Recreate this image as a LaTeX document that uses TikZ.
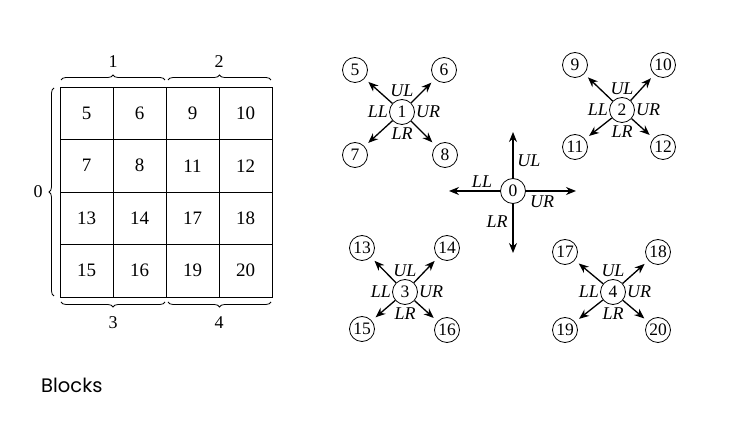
\documentclass[tikz,border=0pt]{standalone}
\usepackage{fontspec}
\setmainfont{Liberation Serif}
\newfontfamily\capfont{Poppins}
\usetikzlibrary{arrows.meta, positioning, decorations.pathreplacing}

\begin{document}
\begin{tikzpicture}[x=1pt, y=-1pt,
  cell/.style={draw, line width=0.9pt, minimum width=53pt, minimum height=52.5pt, inner sep=0pt, font=\fontsize{19}{21}\selectfont},
  blk/.style={draw, circle, line width=0.8pt, minimum size=25pt, inner sep=0pt, font=\fontsize{17.5}{19}\selectfont},
  lbl/.style={inner sep=1pt, font=\fontsize{18}{20}\selectfont\itshape},
  num/.style={inner sep=1pt, font=\fontsize{18}{20}\selectfont},
  go/.style={-{Stealth[length=10pt, width=8pt]}, line width=1.3pt, shorten >=5pt},
  brc/.style={decorate, decoration={brace, amplitude=5pt}, line width=0.8pt}]

  \useasboundingbox (0,0) rectangle (742,435);

  % the grid of blocks
  \node[cell] (c5) at (86.5,113.25) {5};
  \node[cell] (c6) at (139.5,113.25) {6};
  \node[cell] (c9) at (192.5,113.25) {9};
  \node[cell] (c10) at (245.5,113.25) {10};
  \node[cell] (c7) at (86.5,165.75) {7};
  \node[cell] (c8) at (139.5,165.75) {8};
  \node[cell] (c11) at (192.5,165.75) {11};
  \node[cell] (c12) at (245.5,165.75) {12};
  \node[cell] (c13) at (86.5,218.25) {13};
  \node[cell] (c14) at (139.5,218.25) {14};
  \node[cell] (c17) at (192.5,218.25) {17};
  \node[cell] (c18) at (245.5,218.25) {18};
  \node[cell] (c15) at (86.5,270.75) {15};
  \node[cell] (c16) at (139.5,270.75) {16};
  \node[cell] (c19) at (192.5,270.75) {19};
  \node[cell] (c20) at (245.5,270.75) {20};

  % braces
  \draw[brc] (61,80) -- (165,80);
  \draw[brc] (168,80) -- (271,80);
  \draw[brc] (165,302) -- (61,302);
  \draw[brc] (271,302) -- (168,302);
  \draw[brc] (54,296) -- (54,88);
  \node[num] (q1) at (113,62) {1};
  \node[num] (q2) at (219,62) {2};
  \node[num] (q3) at (113,323) {3};
  \node[num] (q4) at (219,323) {4};
  \node[num] (q0) at (38,192) {0};

  % block 0
  \node[blk] (n0) at (513,191) {0};
  \coordinate (u0) at (513,132);
  \coordinate (d0) at (513,253);
  \coordinate (l0) at (449,191);
  \coordinate (r0) at (576,191);
  \draw[go, shorten >=0pt] (n0) -- (u0);
  \draw[go, shorten >=0pt] (n0) -- (d0);
  \draw[go, shorten >=0pt] (n0) -- (l0);
  \draw[go, shorten >=0pt] (n0) -- (r0);
  \node[lbl] (ul0) at (529,161) {UL};
  \node[lbl] (ll0) at (482,182) {LL};
  \node[lbl] (ur0) at (542,202) {UR};
  \node[lbl] (lr0) at (497,222) {LR};

  % block 1
  \node[blk] (n1) at (402,112) {1};
  \node[blk] (s5) at (355,70) {5};
  \node[blk] (s6) at (444,70) {6};
  \node[blk] (s7) at (355,155) {7};
  \node[blk] (s8) at (445,155) {8};
  \draw[go] (n1) -- (s5);
  \draw[go] (n1) -- (s6);
  \draw[go] (n1) -- (s7);
  \draw[go] (n1) -- (s8);
  \node[lbl, above=1pt of n1] (ul1) {UL};
  \node[lbl, below=2pt of n1] (lr1) {LR};
  \node[lbl, left=0pt of n1] (ll1) {LL};
  \node[lbl, right=0pt of n1] (ur1) {UR};

  % block 2
  \node[blk] (n2) at (622,110) {2};
  \node[blk] (s9) at (575,65) {9};
  \node[blk] (s10) at (663,65) {10};
  \node[blk] (s11) at (575,147) {11};
  \node[blk] (s12) at (663,147) {12};
  \draw[go] (n2) -- (s9);
  \draw[go] (n2) -- (s10);
  \draw[go] (n2) -- (s11);
  \draw[go] (n2) -- (s12);
  \node[lbl, above=1pt of n2] (ul2) {UL};
  \node[lbl, below=2pt of n2] (lr2) {LR};
  \node[lbl, left=0pt of n2] (ll2) {LL};
  \node[lbl, right=0pt of n2] (ur2) {UR};

  % block 3
  \node[blk] (n3) at (405,292) {3};
  \node[blk] (s13) at (362,248) {13};
  \node[blk] (s14) at (447,248) {14};
  \node[blk] (s15) at (362,329) {15};
  \node[blk] (s16) at (447,330) {16};
  \draw[go] (n3) -- (s13);
  \draw[go] (n3) -- (s14);
  \draw[go] (n3) -- (s15);
  \draw[go] (n3) -- (s16);
  \node[lbl, above=1pt of n3] (ul3) {UL};
  \node[lbl, below=2pt of n3] (lr3) {LR};
  \node[lbl, left=0pt of n3] (ll3) {LL};
  \node[lbl, right=0pt of n3] (ur3) {UR};

  % block 4
  \node[blk] (n4) at (613,292) {4};
  \node[blk] (s17) at (565,252) {17};
  \node[blk] (s18) at (658,252) {18};
  \node[blk] (s19) at (565,330) {19};
  \node[blk] (s20) at (658,330) {20};
  \draw[go] (n4) -- (s17);
  \draw[go] (n4) -- (s18);
  \draw[go] (n4) -- (s19);
  \draw[go] (n4) -- (s20);
  \node[lbl, above=1pt of n4] (ul4) {UL};
  \node[lbl, below=2pt of n4] (lr4) {LR};
  \node[lbl, left=0pt of n4] (ll4) {LL};
  \node[lbl, right=0pt of n4] (ur4) {UR};

  \node[anchor=west, inner sep=0pt, font=\capfont\fontsize{19.5}{21}\selectfont] (cap) at (41,385) {Blocks};
\end{tikzpicture}
\end{document}
